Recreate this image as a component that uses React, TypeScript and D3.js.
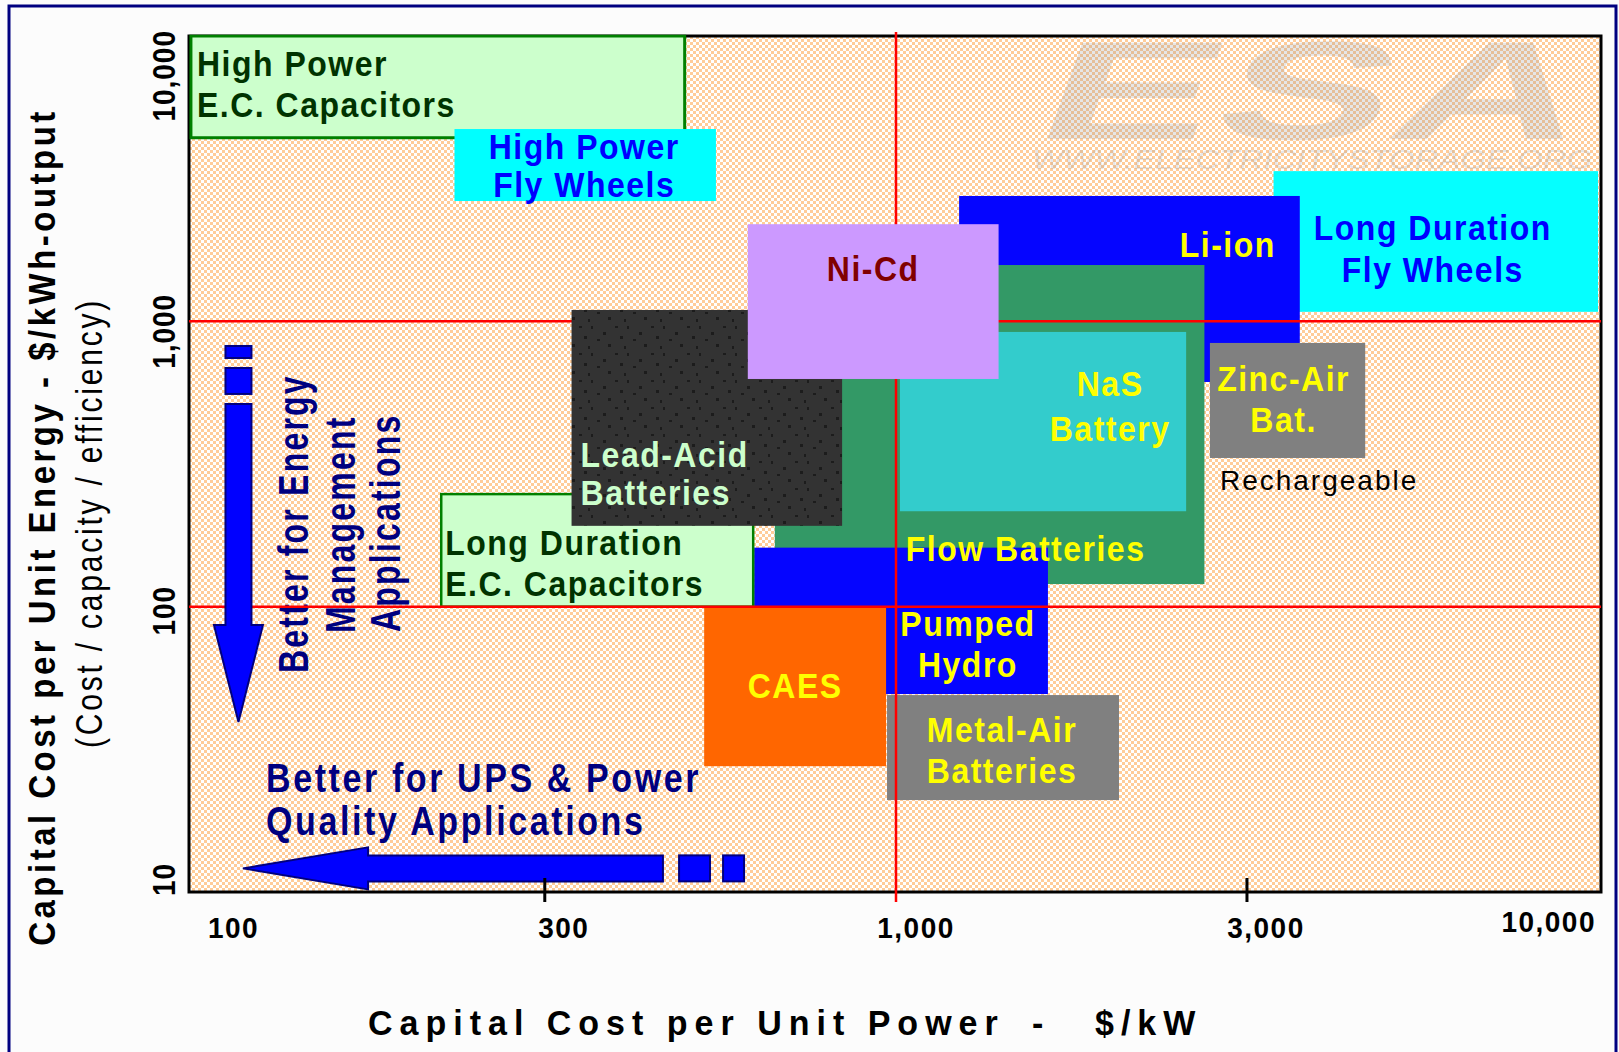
import React from 'react';
import * as d3 from 'd3';

// storage technologies, listed back to front
const technologies = [
  'High Power E.C. Capacitors',
  'High Power Fly Wheels',
  'Long Duration Fly Wheels',
  'Li-ion',
  'Flow Batteries',
  'NaS Battery',
  'Zinc-Air Bat.',
  'Pumped Hydro',
  'Long Duration E.C. Capacitors',
  'CAES',
  'Metal-Air Batteries',
  'Lead-Acid Batteries',
  'Ni-Cd',
];
// capital cost per unit power, $/kW
const powerCostLow = [99, 235, 3450, 1230, 672, 1013, 2800, 628, 225, 533, 971, 345, 615];
const powerCostHigh = [500, 554, 10000, 3760, 2750, 2590, 4660, 1646, 626, 968, 2078, 838, 1400];
// capital cost per unit energy, $/kWh-output
const energyCostLow = [4400, 2640, 1080, 613, 120, 216, 332, 49.4, 100, 27.6, 21, 192, 628];
const energyCostHigh = [10000, 4720, 3360, 2750, 1575, 918, 840, 161, 248, 99, 49, 1096, 2190];

const xTickValues = [100, 316, 1000, 3162, 10000];
const xTickLabels = ['100', '300', '1,000', '3,000', '10,000'];
const yTickValues = [10, 100, 1000, 10000];
const yTickLabels = ['10', '100', '1,000', '10,000'];
const guideX = [1000];
const guideY = [100, 1000];

// annotation arrows, in data units
const upsArrow = { y: 12.1, tip: 117.4, headBase: 177, shaftEnd: 465.6, dashes: [[490.9, 543.3], [567.1, 607.5]] };
const energyArrow = { x: 115.7, tip: 39.4, headBase: 86.3, shaftEnd: 513.2, dashes: [[556.5, 686.2], [743.9, 819.6]] };

const W = 1619;
const H = 1052;
const plot = { left: 189, right: 1601, top: 36, bottom: 892 };
const FONT = '"Liberation Sans", Arial, Helvetica, sans-serif';
const NAVY = '#000080';
const YEL = '#ffff00';

type LabelCfg = {
  fill: string;
  stroke?: string;
  sw?: number;
  textColor: string;
  lines: string[];
  anchor: 'start' | 'middle' | 'end';
  from: 'left' | 'center' | 'right';
  dx: number;
  base: 'top' | 'bottom';
  dy: number[];
  front?: boolean;
};

const boxStyle: Record<string, LabelCfg> = {
  'High Power E.C. Capacitors': { fill: '#ccffcc', stroke: '#008000', sw: 3, textColor: '#003300', lines: ['High Power', 'E.C. Capacitors'], anchor: 'start', from: 'left', dx: 6, base: 'top', dy: [40, 81] },
  'High Power Fly Wheels': { fill: '#00ffff', textColor: '#0000ff', lines: ['High Power', 'Fly Wheels'], anchor: 'middle', from: 'center', dx: -1, base: 'top', dy: [30, 68] },
  'Long Duration Fly Wheels': { fill: '#05ffff', textColor: '#0000ff', lines: ['Long Duration', 'Fly Wheels'], anchor: 'middle', from: 'center', dx: -3, base: 'top', dy: [69, 111] },
  'Li-ion': { fill: '#0505ff', textColor: YEL, lines: ['Li-ion'], anchor: 'end', from: 'right', dx: -24, base: 'top', dy: [61] },
  'Flow Batteries': { fill: '#339966', textColor: YEL, lines: ['Flow Batteries'], anchor: 'start', from: 'left', dx: 131, base: 'bottom', dy: [-23] },
  'NaS Battery': { fill: '#33cccc', textColor: YEL, lines: ['NaS', 'Battery'], anchor: 'middle', from: 'right', dx: -76, base: 'top', dy: [64, 109] },
  'Zinc-Air Bat.': { fill: '#808080', textColor: YEL, lines: ['Zinc-Air', 'Bat.'], anchor: 'middle', from: 'center', dx: -4, base: 'top', dy: [48, 89] },
  'Pumped Hydro': { fill: '#0505ff', textColor: YEL, lines: ['Pumped', 'Hydro'], anchor: 'middle', from: 'right', dx: -80, base: 'bottom', dy: [-58, -17] },
  'Long Duration E.C. Capacitors': { fill: '#ccffcc', stroke: '#008000', sw: 2.5, textColor: '#003300', lines: ['Long Duration', 'E.C. Capacitors'], anchor: 'start', from: 'left', dx: 4, base: 'top', dy: [61, 102] },
  'CAES': { fill: '#ff6600', textColor: YEL, lines: ['CAES'], anchor: 'middle', from: 'center', dx: 0, base: 'top', dy: [90] },
  'Metal-Air Batteries': { fill: '#808080', textColor: YEL, lines: ['Metal-Air', 'Batteries'], anchor: 'middle', from: 'center', dx: -1, base: 'top', dy: [47, 88] },
  'Lead-Acid Batteries': { fill: 'url(#leadDots)', textColor: '#ccffcc', lines: ['Lead-Acid', 'Batteries'], anchor: 'start', from: 'left', dx: 9, base: 'bottom', dy: [-59, -21], front: true },
  'Ni-Cd': { fill: '#cc99ff', textColor: '#800000', lines: ['Ni-Cd'], anchor: 'middle', from: 'center', dx: 0, base: 'top', dy: [57], front: true },
};

type TxtProps = {
  x: number; y: number; text: string; size: number; fill: string;
  anchor?: 'start' | 'middle' | 'end'; weight?: string | number; ls?: number; sy?: number; rot?: boolean;
};

const Txt = ({ x, y, text, size, fill, anchor = 'start', weight = 'bold', ls = 0, sy = 1, rot = false }: TxtProps) => (
  <g transform={`translate(${x},${y})${rot ? ' rotate(-90)' : ''} scale(1,${sy})`}>
    <text fontFamily={FONT} fontSize={size} fontWeight={weight} fill={fill} textAnchor={anchor}
      letterSpacing={ls} style={{ whiteSpace: 'pre' }}>{text}</text>
  </g>
);

const App: React.FC = () => {
  const x = d3.scaleLog().domain([100, 10000]).range([194, 1598]);
  const y = d3.scaleLog().domain([10, 10000]).range([plot.bottom, plot.top]);

  const boxes = technologies.map((name, i) => {
    const x0 = x(powerCostLow[i]);
    const x1 = x(powerCostHigh[i]);
    const y0 = y(energyCostHigh[i]);
    const y1 = y(energyCostLow[i]);
    return { name, x0, x1, y0, y1, cfg: boxStyle[name] };
  });

  const drawBox = (b: typeof boxes[number]) => (
    <rect key={b.name} x={b.x0} y={b.y0} width={b.x1 - b.x0} height={b.y1 - b.y0}
      fill={b.cfg.fill} stroke={b.cfg.stroke || 'none'} strokeWidth={b.cfg.sw || 0} />
  );

  const drawLabel = (b: typeof boxes[number]) => {
    const c = b.cfg;
    const ax = (c.from === 'left' ? b.x0 : c.from === 'right' ? b.x1 : (b.x0 + b.x1) / 2) + c.dx;
    const by = c.base === 'top' ? b.y0 : b.y1;
    return c.lines.map((line, j) => (
      <Txt key={b.name + j} x={ax} y={by + c.dy[j]} text={line} size={32} fill={c.textColor}
        anchor={c.anchor} ls={1.5} sy={1.1} />
    ));
  };

  const back = boxes.filter((b) => !b.cfg.front);
  const front = boxes.filter((b) => b.cfg.front);
  const zinc = boxes.find((b) => b.name === 'Zinc-Air Bat.')!;

  // arrows
  const hy = y(upsArrow.y);
  const hTip = x(upsArrow.tip);
  const hBase = x(upsArrow.headBase);
  const hEnd = x(upsArrow.shaftEnd);
  const upsPath = d3.path();
  upsPath.moveTo(hTip, hy);
  upsPath.lineTo(hBase, hy - 21);
  upsPath.lineTo(hBase, hy - 13);
  upsPath.lineTo(hEnd, hy - 13);
  upsPath.lineTo(hEnd, hy + 13);
  upsPath.lineTo(hBase, hy + 13);
  upsPath.lineTo(hBase, hy + 21);
  upsPath.closePath();

  const vx = x(energyArrow.x);
  const vTip = y(energyArrow.tip);
  const vBase = y(energyArrow.headBase);
  const vEnd = y(energyArrow.shaftEnd);
  const enPath = d3.path();
  enPath.moveTo(vx, vTip);
  enPath.lineTo(vx - 24.5, vBase);
  enPath.lineTo(vx - 13, vBase);
  enPath.lineTo(vx - 13, vEnd);
  enPath.lineTo(vx + 13, vEnd);
  enPath.lineTo(vx + 13, vBase);
  enPath.lineTo(vx + 24.5, vBase);
  enPath.closePath();

  const xTickAnchor: ('start' | 'middle' | 'end')[] = ['start', 'middle', 'middle', 'middle', 'end'];
  const xTickShift = [14, 19, 20, 19, -2];
  const xTickBase = [938, 938, 938, 938, 932];
  const yTickAnchor: ('start' | 'middle' | 'end')[] = ['start', 'middle', 'middle', 'end'];
  const yTickShift = [4, 4, 10, -6];

  return (
    <svg width={W} height={H} style={{ position: 'absolute', left: 0, top: 0, display: 'block' }}>
      <defs>
        <pattern id="peach" width="6" height="6" patternUnits="userSpaceOnUse">
          <rect width="6" height="6" fill="#ffffff" />
          <rect width="3" height="3" fill="#ffcc99" />
          <rect x="3" y="3" width="3" height="3" fill="#ffcc99" />
        </pattern>
        <pattern id="leadDots" width="36" height="27" patternUnits="userSpaceOnUse">
          <rect width="36" height="27" fill="#333333" />
          <rect x="3" y="2" width="3" height="2" fill="#1c1c1c" />
          <rect x="15" y="2" width="2" height="3" fill="#1c1c1c" />
          <rect x="27" y="8" width="3" height="3" fill="#1c1c1c" />
          <rect x="8" y="12" width="3" height="3" fill="#1c1c1c" />
          <rect x="21" y="15" width="3" height="2" fill="#1c1c1c" />
          <rect x="32" y="20" width="3" height="3" fill="#1c1c1c" />
          <rect x="12" y="22" width="2" height="3" fill="#1c1c1c" />
        </pattern>
        <clipPath id="plotClip">
          <rect x={plot.left - 1.5} y={plot.top - 1.5} width={plot.right - plot.left + 3} height={plot.bottom - plot.top + 3} />
        </clipPath>
      </defs>

      <rect width={W} height={H} fill="#fcfcfc" />
      <rect x={9} y={6} width={1607} height={1070} fill="none" stroke={NAVY} strokeWidth={3} />

      {/* plot area */}
      <rect x={plot.left} y={plot.top} width={plot.right - plot.left} height={plot.bottom - plot.top}
        fill="url(#peach)" stroke="#000" strokeWidth={3} />

      {/* watermark */}
      <g opacity={0.24} fill="#9a9a9a">
        <g transform="translate(1030,139) skewX(-20) scale(1.85,1)">
          <text fontFamily={FONT} fontSize={140} fontWeight="bold" letterSpacing={2}>ESA</text>
        </g>
        <text x={1032} y={169} fontFamily={FONT} fontSize={28} fontStyle="italic" textLength={560}
          lengthAdjust="spacingAndGlyphs">WWW.ELECTRICITYSTORAGE.ORG</text>
      </g>

      <g clipPath="url(#plotClip)">
        {back.map(drawBox)}
      </g>

      {/* annotation texts */}
      <Txt x={266} y={792} text="Better for UPS & Power" size={34} fill={NAVY} ls={2.6} sy={1.17} />
      <Txt x={266} y={835} text="Quality Applications" size={34} fill={NAVY} ls={2.6} sy={1.17} />
      <Txt x={308} y={673} text="Better for Energy" size={32} fill={NAVY} ls={2.2} sy={1.3} rot />
      <Txt x={355} y={633} text="Management" size={32} fill={NAVY} ls={2.2} sy={1.3} rot />
      <Txt x={400} y={632} text="Applications" size={32} fill={NAVY} ls={2.2} sy={1.3} rot />

      {/* red guide lines */}
      {guideY.map((v) => (
        <line key={'gy' + v} x1={plot.left} x2={plot.right} y1={y(v)} y2={y(v)} stroke="#ff0000" strokeWidth={2.5} />
      ))}
      {guideX.map((v) => (
        <line key={'gx' + v} x1={x(v)} x2={x(v)} y1={plot.top - 4} y2={plot.bottom + 10} stroke="#ff0000" strokeWidth={2.5} />
      ))}

      <g clipPath="url(#plotClip)">
        {front.map(drawBox)}
      </g>

      {boxes.map(drawLabel)}
      <Txt x={zinc.x0 + 10} y={zinc.y1 + 32} text="Rechargeable" size={28} fill="#000" weight="normal" ls={2} sy={1.0} />

      {/* arrows */}
      <g fill="#0000ff" stroke={NAVY} strokeWidth={2}>
        <path d={upsPath.toString()} />
        {upsArrow.dashes.map(([a, b]) => (
          <rect key={'hd' + a} x={x(a)} y={hy - 13} width={x(b) - x(a)} height={26} />
        ))}
        <path d={enPath.toString()} />
        {energyArrow.dashes.map(([a, b]) => (
          <rect key={'vd' + a} x={vx - 13} y={y(b)} width={26} height={y(a) - y(b)} />
        ))}
      </g>

      {/* x axis ticks */}
      {xTickValues.map((v, i) => (
        <g key={'xt' + v}>
          {i > 0 && i < xTickValues.length - 1 && v !== 1000 && (
            <line x1={x(v)} x2={x(v)} y1={plot.bottom - 14} y2={plot.bottom + 10} stroke="#000" strokeWidth={3} />
          )}
          <Txt x={x(v) + xTickShift[i]} y={xTickBase[i]} text={xTickLabels[i]} size={28} fill="#000"
            anchor={xTickAnchor[i]} ls={1.5} sy={1.05} />
        </g>
      ))}
      {/* y axis ticks */}
      {yTickValues.map((v, i) => (
        <Txt key={'yt' + v} x={175} y={y(v) + yTickShift[i]} text={yTickLabels[i]} size={28} fill="#000"
          anchor={yTickAnchor[i]} ls={1} sy={1.15} rot />
      ))}

      {/* axis titles */}
      <Txt x={55} y={527} text="Capital Cost per Unit Energy - $/kWh-output" size={33} fill="#000"
        anchor="middle" ls={3.5} sy={1.1} rot />
      <Txt x={102} y={523} text="(Cost / capacity / efficiency)" size={30} fill="#000" weight="normal"
        anchor="middle" ls={2.8} sy={1.25} rot />
      <Txt x={368} y={1035} text="Capital Cost per Unit Power" size={34} fill="#000" ls={7} sy={1.05} />
      <Txt x={1032} y={1035} text="-" size={34} fill="#000" ls={7} sy={1.05} />
      <Txt x={1095} y={1035} text="$/kW" size={34} fill="#000" ls={7} sy={1.05} />
    </svg>
  );
};

export default App;
